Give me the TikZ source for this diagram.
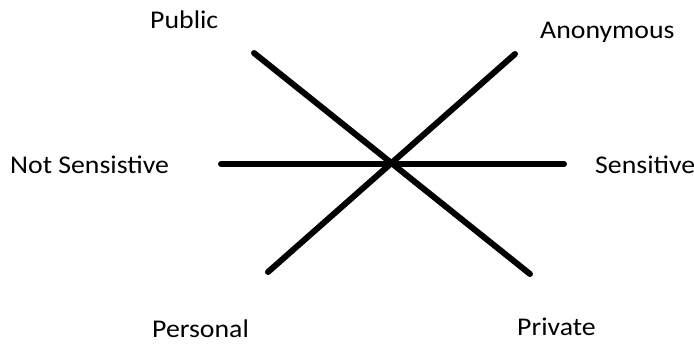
\documentclass[tikz,border=0pt]{standalone}
\usepackage{fontspec}
\setmainfont{Carlito}
\newcommand{\wlbl}[1]{\scalebox{1.09}[1]{#1}}
\begin{document}
\begin{tikzpicture}[x=1pt,y=-1pt,
  lbl/.style={anchor=base west,inner sep=0pt,font=\fontsize{25.5}{30}\selectfont},
  axis/.style={line width=6pt,line cap=round,black}]
\useasboundingbox[fill=white] (0,0) rectangle (694,343);
\coordinate (hl) at (221,164);
\coordinate (hr) at (564,164);
\coordinate (d1a) at (254,53);
\coordinate (d1b) at (530,274);
\coordinate (d2a) at (515,54);
\coordinate (d2b) at (268,272);
\draw[axis] (hl) -- (hr);
\draw[axis] (d1a) -- (d1b);
\draw[axis] (d2a) -- (d2b);
\node[lbl] (pub) at (150,28) {\wlbl{Public}};
\node[lbl] (anon) at (540,38) {\wlbl{Anonymous}};
\node[lbl] (ns) at (10,173) {\wlbl{Not Sensistive}};
\node[lbl] (sens) at (595,173) {\wlbl{Sensitive}};
\node[lbl] (pers) at (152,337) {\wlbl{Personal}};
\node[lbl] (priv) at (517,335) {\wlbl{Private}};
\end{tikzpicture}
\end{document}
